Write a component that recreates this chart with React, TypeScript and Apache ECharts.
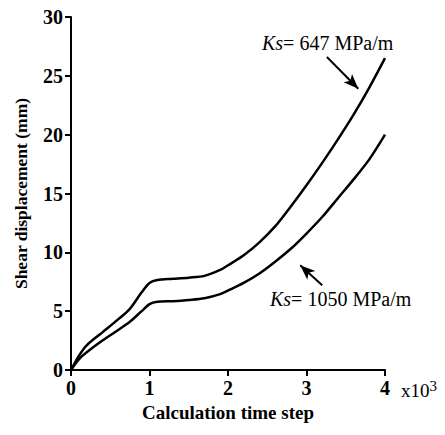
import React, { useEffect, useRef } from "react";
import * as echarts from "echarts";

const steps = [0, 0.1, 0.2, 0.4, 0.6, 0.75, 0.9, 1.0, 1.1, 1.3, 1.5, 1.7, 1.9, 2.0, 2.2, 2.4, 2.6, 2.8, 3.0, 3.2, 3.4, 3.6, 3.8, 4.0];
const ks647 = [0, 1.2, 2.1, 3.2, 4.3, 5.2, 6.6, 7.4, 7.65, 7.75, 7.85, 8.0, 8.5, 8.9, 9.75, 10.85, 12.2, 13.9, 15.7, 17.6, 19.6, 21.7, 24.0, 26.5];
const ks1050 = [0, 0.9, 1.5, 2.5, 3.4, 4.1, 5.0, 5.6, 5.8, 5.85, 5.95, 6.1, 6.45, 6.75, 7.4, 8.2, 9.2, 10.3, 11.6, 13.0, 14.6, 16.2, 17.9, 20.0];
const arrow647 = [[3.26, 26.6], [3.66, 23.9]];
const arrow1050 = [[3.2, 7.2], [2.92, 8.9]];
const xTicks = ["0", "1", "2", "3", "4"];
const yTicks = ["0", "5", "10", "15", "20", "25", "30"];

const serif = "Liberation Serif";

export default function App() {
  const ref = useRef<HTMLDivElement>(null);
  useEffect(() => {
    const chart = echarts.init(ref.current!, null, { renderer: "svg" });
    const mk = (ys: number[]) => steps.map((x, i) => [x, ys[i]]);
    const arrowLine = (a: number[][]) => ({
      symbol: ["none", "arrow"],
      symbolSize: [9, 15],
      silent: true,
      label: { show: false },
      lineStyle: { color: "#000", width: 2, type: "solid" },
      data: [[{ coord: a[0] }, { coord: a[1] }]],
    });
    chart.setOption({
      animation: false,
      backgroundColor: "#fff",
      grid: { left: 71, right: 60, top: 17, bottom: 65 },
      xAxis: {
        type: "value",
        min: 0,
        max: 4,
        interval: 1,
        name: "Calculation time step",
        nameLocation: "middle",
        nameGap: 29,
        nameTextStyle: { fontFamily: serif, fontWeight: "bold", fontSize: 19, color: "#000" },
        axisLine: { lineStyle: { color: "#000", width: 2 } },
        axisTick: { show: true, length: 6, lineStyle: { color: "#000", width: 2 } },
        axisLabel: {
          fontFamily: serif, fontWeight: "bold", fontSize: 20, color: "#000", margin: 8,
          formatter: (v: number) => xTicks[Math.round(v)] ?? "",
        },
        splitLine: { show: false },
      },
      yAxis: {
        type: "value",
        min: 0,
        max: 30,
        interval: 5,
        name: "Shear displacement (mm)",
        nameLocation: "middle",
        nameGap: 41,
        nameTextStyle: { fontFamily: serif, fontWeight: "bold", fontSize: 17.5, color: "#000" },
        axisLine: { show: true, lineStyle: { color: "#000", width: 2 } },
        axisTick: { show: true, length: 6, lineStyle: { color: "#000", width: 2 } },
        axisLabel: {
          fontFamily: serif, fontWeight: "bold", fontSize: 20, color: "#000", margin: 8,
          formatter: (v: number) => yTicks[Math.round(v / 5)] ?? "",
        },
        splitLine: { show: false },
      },
      series: [
        {
          name: "Ks= 647 MPa/m",
          type: "line",
          data: mk(ks647),
          smooth: 0.3,
          showSymbol: false,
          lineStyle: { color: "#000", width: 2.5 },
          markLine: arrowLine(arrow647),
        },
        {
          name: "Ks= 1050 MPa/m",
          type: "line",
          data: mk(ks1050),
          smooth: 0.3,
          showSymbol: false,
          lineStyle: { color: "#000", width: 2.5 },
          markLine: arrowLine(arrow1050),
        },
      ],
      graphic: [
        {
          type: "text",
          left: 262,
          top: 33,
          style: {
            text: "{i|Ks}= 647 MPa/m",
            rich: {
              i: { fontFamily: serif, fontStyle: "italic", fontSize: 20, fill: "#000" },
            },
            fontFamily: serif,
            fontSize: 20,
            fill: "#000",
          },
        },
        {
          type: "text",
          left: 270,
          top: 289,
          style: {
            text: "{i|Ks}= 1050 MPa/m",
            rich: {
              i: { fontFamily: serif, fontStyle: "italic", fontSize: 20, fill: "#000" },
            },
            fontFamily: serif,
            fontSize: 20,
            fill: "#000",
          },
        },
        {
          type: "text",
          left: 401,
          top: 378,
          style: {
            text: "x10{s|3}",
            rich: {
              s: { fontFamily: serif, fontSize: 15, fill: "#000", verticalAlign: "top", padding: [0, 0, 9, 0] },
            },
            fontFamily: serif,
            fontSize: 19,
            fill: "#000",
          },
        },
      ],
    });
    return () => chart.dispose();
  }, []);
  return <div ref={ref} style={{ position: "absolute", left: 0, top: 0, width: 445, height: 435 }} />;
}
